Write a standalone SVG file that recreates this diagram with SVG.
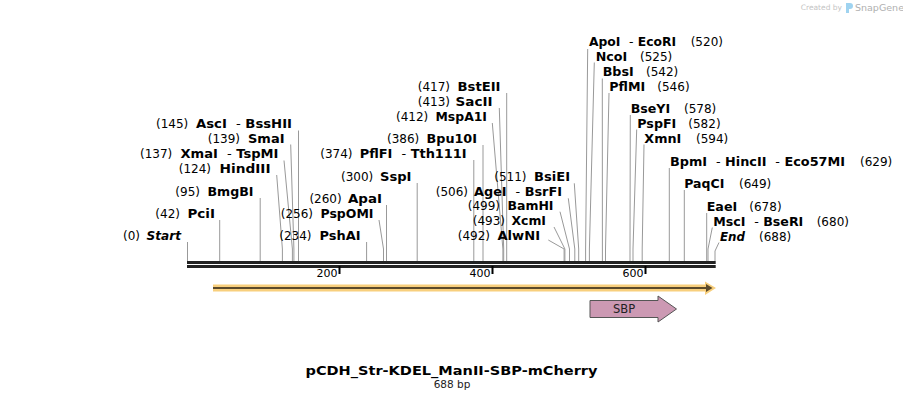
<svg xmlns="http://www.w3.org/2000/svg" width="903" height="400" viewBox="0 0 903 400">
<style>
text{font-family:"DejaVu Sans",Verdana,sans-serif;font-size:12px;fill:#000}
.b{font-weight:bold}
.i{font-style:italic}
.r{text-anchor:end}
.h{font-weight:normal}
.c{stroke:#999;stroke-width:1;fill:none}
.t{font-size:11px;text-anchor:end}
</style>
<rect width="903" height="400" fill="#fff"/>
<g id="logo">
<text x="842" y="10" style="font-size:7.5px;fill:#c4c4c4;text-anchor:end">Created by</text>
<path d="M846 3 h4 a3 3 0 0 1 0 6 h-1 v4 h-3 z" fill="#9fd3f0"/>
<text x="855" y="11" style="font-size:9.5px;fill:#b0b0b0">SnapGene</text>
</g>
<g id="connectors">
<path class="c" d="M187.5 242V261"/>
<path class="c" d="M219.7 220V261"/>
<path class="c" d="M260.2 198V261"/>
<path class="c" d="M276.7 175L282.4 249V261"/>
<path class="c" d="M284 160.5L292.4 249V261"/>
<path class="c" d="M290.7 144.5L293.9 249V261"/>
<path class="c" d="M298.5 130.5V261"/>
<path class="c" d="M366.6 242V261"/>
<path class="c" d="M379 220L383.5 249V261"/>
<path class="c" d="M386.5 205V261"/>
<path class="c" d="M417.2 183V261"/>
<path class="c" d="M473.8 160V261"/>
<path class="c" d="M483 145V261"/>
<path class="c" d="M492.3 123L502.9 249V261"/>
<path class="c" d="M499.3 108L503.7 249V261"/>
<path class="c" d="M506.7 93V261"/>
<path class="c" d="M548.3 240L564.1 249V261"/>
<path class="c" d="M554 227L564.9 249V261"/>
<path class="c" d="M560 211.7L569.5 249V261"/>
<path class="c" d="M568.3 198.3L574.8 249V261"/>
<path class="c" d="M574.3 183.3L578.7 249V261"/>
<path class="c" d="M587.7 49L585.6 249V261"/>
<path class="c" d="M594.3 62.5L589.4 249V261"/>
<path class="c" d="M602.3 78.5L602.4 249V261"/>
<path class="c" d="M609 93L605.5 249V261"/>
<path class="c" d="M630.3 115L630 249V261"/>
<path class="c" d="M636.7 129.5L633 249V261"/>
<path class="c" d="M644 144.5L642.2 249V261"/>
<path class="c" d="M669.3 168V261"/>
<path class="c" d="M684.3 190V261"/>
<path class="c" d="M706.7 213V261"/>
<path class="c" d="M712.3 227.5L708 249V261"/>
<path class="c" d="M719 242.5L715 251V261"/>
</g>
<g id="backbone">
<rect x="187" y="261" width="528.7" height="3" fill="#222"/>
<rect x="187" y="265" width="528.7" height="3" fill="#222"/>
<rect x="338.5" y="266" width="2" height="8" fill="#000"/>
<rect x="491.5" y="266" width="2" height="8" fill="#000"/>
<rect x="644.5" y="266" width="2" height="8" fill="#000"/>
<text class="t" x="337.5" y="277">200</text>
<text class="t" x="490.5" y="277">400</text>
<text class="t" x="643.5" y="277">600</text>
</g>
<g id="orf">
<path d="M213 284.5H705V281.5L716 288L705 295V291.5H213Z" fill="#f8cf7d"/>
<path d="M213 287H706V284L712.5 288L706 292V289H213Z" fill="#5b4a2b"/>
</g>
<g id="SBP">
<path d="M590 300.5H658V296L676.5 309L658 322V317.5H590Z" fill="#cc99b3" stroke="#555" stroke-width="1"/>
<text x="624" y="313" style="font-size:11.5px;text-anchor:middle;fill:#222">SBP</text>
</g>
<g id="title">
<text x="451.5" y="375" class="b" style="font-size:13px;text-anchor:middle" textLength="292" lengthAdjust="spacingAndGlyphs">pCDH_Str-KDEL_ManII-SBP-mCherry</text>
<text x="452" y="388" style="font-size:10.5px;text-anchor:middle;fill:#222">688 bp</text>
</g>
<g id="Start"><text class="r" x="140" y="240">(0)</text><text class="r b i" x="181" y="240" textLength="34.5" lengthAdjust="spacingAndGlyphs">Start</text></g>
<g id="PciI"><text class="r" x="180" y="218">(42)</text><text class="r b" x="215" y="218" textLength="27.5" lengthAdjust="spacingAndGlyphs">PciI</text></g>
<g id="BmgBI"><text class="r" x="200" y="196">(95)</text><text class="r b" x="253.5" y="196" textLength="46" lengthAdjust="spacingAndGlyphs">BmgBI</text></g>
<g id="HindIII"><text class="r" x="211" y="173">(124)</text><text class="r b" x="270.5" y="173" textLength="51" lengthAdjust="spacingAndGlyphs">HindIII</text></g>
<g id="XmaI"><text class="r" x="172.3" y="158">(137)</text><text class="r b" x="278.5" y="158" textLength="98" lengthAdjust="spacingAndGlyphs">XmaI&#160; <tspan class="h">-</tspan> TspMI</text></g>
<g id="SmaI"><text class="r" x="240" y="143">(139)</text><text class="r b" x="284.5" y="143" textLength="36.5" lengthAdjust="spacingAndGlyphs">SmaI</text></g>
<g id="AscI"><text class="r" x="188.3" y="128">(145)</text><text class="r b" x="292" y="128" textLength="96" lengthAdjust="spacingAndGlyphs">AscI&#160; <tspan class="h">-</tspan> BssHII</text></g>
<g id="PshAI"><text class="r" x="311.5" y="240">(234)</text><text class="r b" x="360.5" y="240" textLength="41" lengthAdjust="spacingAndGlyphs">PshAI</text></g>
<g id="PspOMI"><text class="r" x="313" y="218">(256)</text><text class="r b" x="373.5" y="218" textLength="53" lengthAdjust="spacingAndGlyphs">PspOMI</text></g>
<g id="ApaI"><text class="r" x="341.7" y="203">(260)</text><text class="r b" x="382" y="203" textLength="34" lengthAdjust="spacingAndGlyphs">ApaI</text></g>
<g id="SspI"><text class="r" x="373.3" y="181">(300)</text><text class="r b" x="411.5" y="181" textLength="31.5" lengthAdjust="spacingAndGlyphs">SspI</text></g>
<g id="PflFI"><text class="r" x="352.5" y="158">(374)</text><text class="r b" x="466.7" y="158" textLength="107" lengthAdjust="spacingAndGlyphs">PflFI&#160; <tspan class="h">-</tspan> Tth111I</text></g>
<g id="Bpu10I"><text class="r" x="419.3" y="143">(386)</text><text class="r b" x="477" y="143" textLength="50.5" lengthAdjust="spacingAndGlyphs">Bpu10I</text></g>
<g id="MspA1I"><text class="r" x="428.3" y="121">(412)</text><text class="r b" x="487" y="121" textLength="51.5" lengthAdjust="spacingAndGlyphs">MspA1I</text></g>
<g id="SacII"><text class="r" x="450" y="106">(413)</text><text class="r b" x="492.5" y="106" textLength="37" lengthAdjust="spacingAndGlyphs">SacII</text></g>
<g id="BstEII"><text class="r" x="450" y="91">(417)</text><text class="r b" x="500.5" y="91" textLength="43" lengthAdjust="spacingAndGlyphs">BstEII</text></g>
<g id="AlwNI"><text class="r" x="490" y="240">(492)</text><text class="r b" x="540" y="240" textLength="42.5" lengthAdjust="spacingAndGlyphs">AlwNI</text></g>
<g id="XcmI"><text class="r" x="505" y="225">(493)</text><text class="r b" x="546" y="225" textLength="34.5" lengthAdjust="spacingAndGlyphs">XcmI</text></g>
<g id="BamHI"><text class="r" x="500" y="210">(499)</text><text class="r b" x="553.5" y="210" textLength="46" lengthAdjust="spacingAndGlyphs">BamHI</text></g>
<g id="AgeI"><text class="r" x="468" y="196">(506)</text><text class="r b" x="562" y="196" textLength="88" lengthAdjust="spacingAndGlyphs">AgeI&#160; <tspan class="h">-</tspan> BsrFI</text></g>
<g id="BsiEI"><text class="r" x="526.5" y="181">(511)</text><text class="r b" x="570" y="181" textLength="36" lengthAdjust="spacingAndGlyphs">BsiEI</text></g>
<g id="ApoI"><text class="b" x="589" y="46" textLength="87" lengthAdjust="spacingAndGlyphs">ApoI&#160; <tspan class="h">-</tspan> EcoRI</text><text x="690.7" y="46">(520)</text></g>
<g id="NcoI"><text class="b" x="595.7" y="61" textLength="31.5" lengthAdjust="spacingAndGlyphs">NcoI</text><text x="640" y="61">(525)</text></g>
<g id="BbsI"><text class="b" x="602.7" y="76" textLength="31" lengthAdjust="spacingAndGlyphs">BbsI</text><text x="646" y="76">(542)</text></g>
<g id="PflMI"><text class="b" x="609.3" y="91" textLength="36" lengthAdjust="spacingAndGlyphs">PflMI</text><text x="657.3" y="91">(546)</text></g>
<g id="BseYI"><text class="b" x="630.7" y="113" textLength="39.5" lengthAdjust="spacingAndGlyphs">BseYI</text><text x="684" y="113">(578)</text></g>
<g id="PspFI"><text class="b" x="637.3" y="128" textLength="39" lengthAdjust="spacingAndGlyphs">PspFI</text><text x="688.3" y="128">(582)</text></g>
<g id="XmnI"><text class="b" x="644.3" y="143" textLength="37" lengthAdjust="spacingAndGlyphs">XmnI</text><text x="696" y="143">(594)</text></g>
<g id="BpmI"><text class="b" x="670" y="166" textLength="175" lengthAdjust="spacingAndGlyphs">BpmI&#160; <tspan class="h">-</tspan> HincII&#160; <tspan class="h">-</tspan> Eco57MI</text><text x="860" y="166">(629)</text></g>
<g id="PaqCI"><text class="b" x="684.3" y="188" textLength="40" lengthAdjust="spacingAndGlyphs">PaqCI</text><text x="739" y="188">(649)</text></g>
<g id="EaeI"><text class="b" x="706.7" y="211" textLength="30.5" lengthAdjust="spacingAndGlyphs">EaeI</text><text x="749.3" y="211">(678)</text></g>
<g id="MscI"><text class="b" x="713.3" y="226" textLength="90" lengthAdjust="spacingAndGlyphs">MscI&#160; <tspan class="h">-</tspan> BseRI</text><text x="816.7" y="226">(680)</text></g>
<g id="End"><text class="b i" x="720" y="241" textLength="25" lengthAdjust="spacingAndGlyphs">End</text><text x="759" y="241">(688)</text></g>
</svg>
